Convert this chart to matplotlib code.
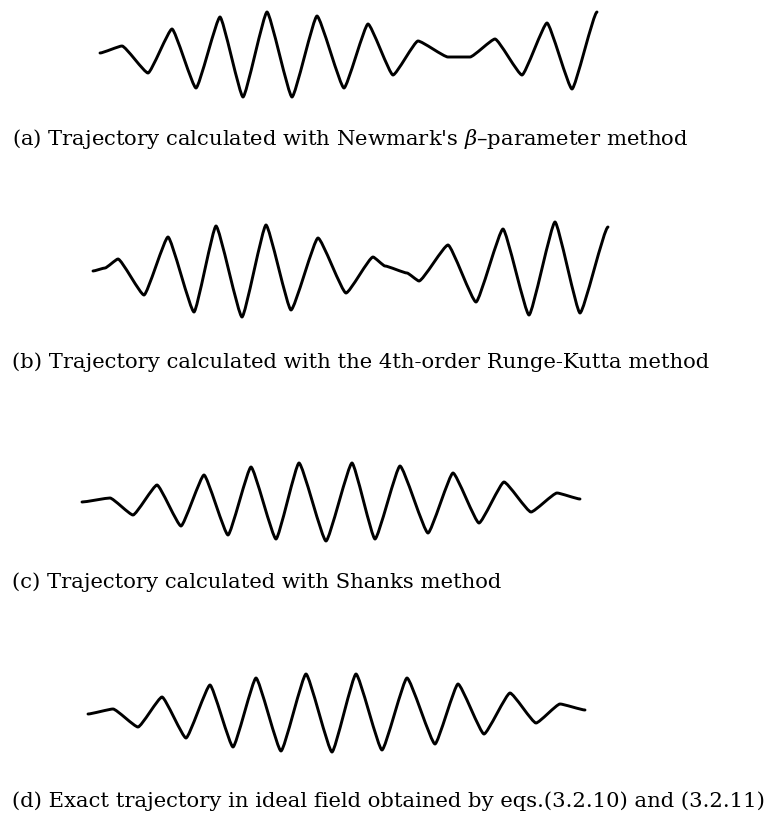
import matplotlib
matplotlib.use("Agg")
from matplotlib import pyplot as plt
from matplotlib.path import Path
from matplotlib.patches import PathPatch

plt.rcParams["font.family"] = ["DejaVu Serif"]
plt.rcParams["mathtext.fontset"] = "dejavuserif"

# horizontal position of each turning point and displacement from the axis
t_a = [100, 122, 148, 172, 196, 220, 243, 267, 292, 317, 344, 368, 393, 418, 448, 470, 495, 522, 547, 572, 597]
y_a = [2, 9, -18, 26, -33, 38, -42, 43, -42, 39, -33, 31, -20, 14, -2, -2, 16, -20, 32, -34, 43]

t_b = [93, 105, 118, 144, 168, 194, 216, 242, 266, 291, 318, 346, 373, 385, 407, 419, 448, 476, 503, 529, 555, 580, 608]
y_b = [-1, 2, 11, -25, 33, -42, 44, -47, 45, -40, 32, -23, 13, 4, -3, -11, 25, -32, 41, -45, 48, -43, 43]

t_c = [82, 110, 133, 157, 181, 204, 228, 251, 276, 299, 326, 352, 375, 400, 428, 453, 479, 504, 531, 557, 580]
y_c = [0, 4, -13, 17, -24, 27, -33, 35, -37, 39, -39, 39, -37, 36, -31, 29, -21, 20, -10, 9, 3]

t_d = [88, 113, 138, 162, 186, 210, 233, 256, 281, 306, 332, 356, 382, 407, 435, 458, 484, 510, 536, 560, 585]
y_d = [-1, 4, -14, 16, -25, 28, -34, 35, -38, 39, -39, 39, -37, 35, -31, 29, -21, 20, -10, 9, 3]

captions = [
    r"(a) Trajectory calculated with Newmark's $\beta$–parameter method",
    "(b) Trajectory calculated with the 4th-order Runge-Kutta method",
    "(c) Trajectory calculated with Shanks method",
    "(d) Exact trajectory in ideal field obtained by eqs.(3.2.10) and (3.2.11)",
]

W, H = 768, 813
centers = [55, 270, 502, 713]
baselines = [145, 368, 588, 807]
series = [(t_a, y_a), (t_b, y_b), (t_c, y_c), (t_d, y_d)]


def smooth_path(t, y, k=0.14):
    # cubic segments with flat tangents at each turning point
    verts = [(t[0], y[0])]
    codes = [Path.MOVETO]
    for i in range(1, len(t)):
        dt = t[i] - t[i - 1]
        verts += [(t[i - 1] + k * dt, y[i - 1]), (t[i] - k * dt, y[i]), (t[i], y[i])]
        codes += [Path.CURVE4] * 3
    return Path(verts, codes)


fig = plt.figure(figsize=(W / 100, H / 100), dpi=100)
fig.patch.set_facecolor("white")

for (t, y), c, b, cap in zip(series, centers, baselines, captions):
    ax = fig.add_axes([0, (H - c - 60) / H, 1, 120 / H])
    ax.add_patch(PathPatch(smooth_path(t, y), facecolor="none", edgecolor="black",
                           lw=2.1, joinstyle="round", capstyle="round"))
    ax.set_xlim(0, W)
    ax.set_ylim(-60, 60)
    ax.axis("off")
    fig.text(12 / W, (H - b) / H, cap, fontsize=15.2, va="baseline", ha="left")

fig.savefig("out.png", dpi=100)
